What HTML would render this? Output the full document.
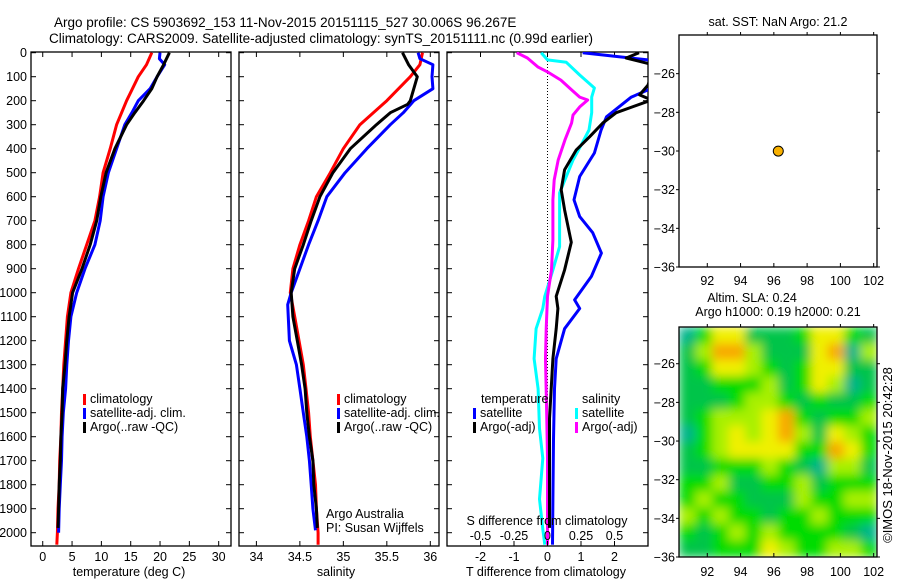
<!DOCTYPE html>
<html><head><meta charset="utf-8"><style>
html,body{margin:0;padding:0;background:#fff}
svg{display:block;font-family:"Liberation Sans",sans-serif}
text{fill:#000}
</style></head><body>
<svg id="fig" width="900" height="580" viewBox="0 0 900 580" xmlns="http://www.w3.org/2000/svg">
<defs>
<clipPath id="c1"><rect x="31" y="52" width="200" height="494"/></clipPath>
<clipPath id="c2"><rect x="239" y="52" width="200" height="494"/></clipPath>
<clipPath id="c3"><rect x="447" y="52" width="201" height="494"/></clipPath>
<clipPath id="cm"><rect x="679" y="327" width="198" height="230"/></clipPath>
<filter id="blur" x="0" y="0" width="100%" height="100%"><feGaussianBlur stdDeviation="5" edgeMode="duplicate"/></filter>
</defs>
<text x="54" y="27" font-size="13.5">Argo profile: CS 5903692_153 11-Nov-2015 20151115_527 30.006S 96.267E</text>
<text x="49" y="43" font-size="13.5">Climatology: CARS2009. Satellite-adjusted climatology: synTS_20151111.nc (0.99d earlier)</text>
<g id="p1"></g>
<g id="p2"></g>
<g id="p3"></g>
<g id="m1"></g>
<g id="m2"></g>
<text transform="translate(892,455) rotate(-90)" text-anchor="middle" font-size="13">©IMOS 18-Nov-2015 20:42:28</text>
</svg>
<script>
// ---- data ----
const tempClimDepth=[0,50,100,200,300,400,500,600,700,800,900,1000,1100,1200,1300,1400,1500,1600,1700,1800,1900,2000,2050];
const tempClim=[18.6,17.7,16.3,14.3,12.6,11.5,10.3,9.7,8.9,7.5,6.1,4.8,4.2,3.9,3.6,3.4,3.2,3.1,2.9,2.8,2.6,2.5,2.4];
const tempSatDepth=[0,25,50,100,150,200,250,300,400,500,600,700,800,900,1000,1100,1200,1300,1400,1500,1600,1700,1800,1900,2000];
const tempSat=[20.0,19.9,20.8,19.5,18.3,16.3,15.2,14.0,12.6,11.2,10.3,9.8,8.9,7.2,5.8,4.8,4.4,4.1,3.9,3.5,3.3,3.2,3.0,2.8,2.7];
const tempArgoDepth=[0,50,100,150,200,250,300,400,500,600,700,800,900,1000,1100,1200,1300,1400,1500,1600,1700,1800,1900,1980];
const tempArgo=[21.6,20.6,19.5,18.6,17.2,15.7,14.3,12.3,10.8,9.9,9.2,8.1,6.7,5.1,4.5,4.1,3.8,3.4,3.3,3.1,3.0,2.8,2.7,2.6];
const salClimDepth=[0,50,100,200,300,400,500,600,700,800,900,1000,1100,1200,1300,1400,1500,1600,1700,1800,1900,2000,2050];
const salClim=[35.91,35.88,35.77,35.50,35.19,35.00,34.85,34.69,34.60,34.50,34.42,34.39,34.44,34.49,34.54,34.57,34.60,34.62,34.65,34.68,34.69,34.71,34.71];
const salSatDepth=[0,25,50,100,150,200,250,300,400,500,600,700,800,900,1000,1050,1200,1300,1400,1500,1600,1700,1800,1900,1990];
const salSat=[35.86,35.88,36.03,36.02,36.03,35.81,35.69,35.54,35.27,35.02,34.81,34.71,34.60,34.50,34.40,34.36,34.38,34.46,34.50,34.54,34.58,34.61,34.63,34.65,34.68];
const salArgoDepth=[0,50,100,150,200,215,250,300,400,500,600,700,800,900,1000,1100,1200,1300,1400,1500,1600,1700,1800,1900,1980];
const salArgo=[35.68,35.75,35.85,35.81,35.77,35.74,35.54,35.38,35.08,34.88,34.73,34.63,34.54,34.44,34.40,34.42,34.47,34.52,34.56,34.58,34.61,34.65,34.66,34.69,34.70];
const dTSatDepth=[0,30,90,155,185,267,322,418,516,613,683,750,835,932,1030,1066,1150,1275,1400,1610,1860,2050];
const dTSat=[1.05,3.0,3.6,3.0,2.5,1.76,1.6,1.4,0.96,0.79,0.96,1.35,1.61,1.31,0.81,0.96,0.51,0.26,0.21,0.18,0.16,0.15];
const dTArgoDepth=[0,22,52,135,176,197,230,250,293,350,405,488,571,655,790,905,1015,1066,1150,1275,1525,1690,1940,1980];
const dTArgo=[2.73,2.35,3.2,3.0,2.75,3.1,2.45,2.05,1.65,1.26,0.86,0.51,0.41,0.51,0.71,0.51,0.26,0.31,0.26,0.16,0.06,0.06,0.06,0.06];
const dSSatDepth=[0,30,40,93,147,185,250,322,376,447,530,584,675,808,905,1015,1066,1150,1275,1400,1566,1690,1860,1985,2050];
const dSSat=[-0.047,0,0.14,0.24,0.35,0.33,0.33,0.31,0.26,0.19,0.13,0.09,0.09,0.09,0.04,-0.02,-0.035,-0.085,-0.10,-0.07,-0.06,-0.035,-0.06,-0.035,-0.02];
const dSArgoDepth=[0,22,60,80,114,155,185,197,226,260,293,364,447,530,613,780,905,1015,1150,1275,1525,1690,1940,2050];
const dSArgo=[-0.23,-0.15,-0.07,0,0.10,0.18,0.24,0.30,0.24,0.19,0.18,0.13,0.08,0.05,0.04,0.04,0.03,0,-0.01,-0.015,-0.005,0,0,0];
const depthTicks=[0,100,200,300,400,500,600,700,800,900,1000,1100,1200,1300,1400,1500,1600,1700,1800,1900,2000];
const tempTicks=[0,5,10,15,20,25,30];
const salTicks=[34,34.5,35,35.5,36];
const dTTicks=[-2,-1,0,1,2];
const dSTicks=[-0.5,-0.25,0,0.25,0.5];
const lonTicks=[92,94,96,98,100,102];
const latTicks=[-26,-28,-30,-32,-34,-36];
const argoLon=[96.267];
const argoLat=[-30.006];
const slaGrid=[
[0,2,4,4,1,1,1,2,4,4,2,1],
[1,3,5,5,3,1,1,1,4,5,0,3],
[1,2,4,4,3,2,1,2,4,4,1,1],
[1,1,2,2,2,3,1,2,4,3,0,1],
[1,1,1,2,3,3,2,1,2,1,1,2],
[1,2,3,3,3,4,5,2,1,2,2,3],
[0,2,3,4,3,4,5,3,1,4,3,2],
[1,2,3,4,4,4,4,2,2,5,4,2],
[1,1,2,2,2,3,2,1,0,3,3,1],
[2,2,3,1,1,2,2,3,1,2,2,2],
[2,3,2,2,1,1,1,3,2,2,3,3],
[3,2,3,2,2,1,2,2,3,2,2,2],
[2,1,2,3,2,3,2,2,2,2,1,0],
[1,1,2,2,2,4,3,2,2,3,3,2]];
const slaColors=['#00b48a','#00c44a','#00dc00','#a8f000','#f0f000','#f8a800'];

// ---- helpers ----
const NS='http://www.w3.org/2000/svg';
function mk(parent,tag,attrs,txt){const e=document.createElementNS(NS,tag);for(const k in attrs)e.setAttribute(k,attrs[k]);if(txt!==undefined)e.textContent=txt;parent.appendChild(e);return e;}
const yD=d=>52.7+d*0.24;
function lin(d0,d1,r0,r1){return v=>r0+(v-d0)*(r1-r0)/(d1-d0);}

function frame(g,x0,x1,y0,y1){
  const r=mk(g,'rect',{x:x0,y:y0,width:x1-x0,height:y1-y0,fill:'none',stroke:'#000','stroke-width':1.3});
  
  
}
function depthAxis(g,x0,x1,labels){
  depthTicks.forEach(d=>{
    const y=yD(d);
    mk(g,'line',{x1:x0,x2:x0+5,y1:y,y2:y,stroke:'#000'});
    mk(g,'line',{x1:x1,x2:x1-5,y1:y,y2:y,stroke:'#000'});
    if(labels){const t=mk(g,'text',{x:x0-4,y:y+4.5,'font-size':12.5,'text-anchor':'end'},String(d));
      
      }
  });
}
function xAxis(g,ticks,sx,y0,y1,labY){
  ticks.forEach(v=>{const x=sx(v);
    mk(g,'line',{x1:x,x2:x,y1:y1,y2:y1-5,stroke:'#000'});
    mk(g,'line',{x1:x,x2:x,y1:y0,y2:y0+5,stroke:'#000'});
    const t=mk(g,'text',{x:x,y:labY,'font-size':12.5,'text-anchor':'middle'},String(v));
    
    
  });
}
function series(g,clip,depths,vals,sx,color,name){
  const pts=depths.map((d,i)=>sx(vals[i]).toFixed(1)+','+yD(d).toFixed(1)).join(' ');
  const p=mk(g,'polyline',{points:pts,fill:'none',stroke:color,'stroke-width':3,'clip-path':'url(#'+clip+')','stroke-linejoin':'round'});
  
  
}
function legend(g,x,y,items){
  items.forEach((it,i)=>{
    mk(g,'rect',{x:x,y:y+i*14-9,width:3,height:11,fill:it[0]});
    const t=mk(g,'text',{x:x+7,y:y+i*14,'font-size':12.5},it[1]);
    
    
  });
}

// ---- panel 1 ----
{const g=document.getElementById('p1');const sx=lin(-2,32.1,31,231);
 frame(g,31,231,52,546);depthAxis(g,31,231,true);xAxis(g,tempTicks,sx,52,546,561);
 series(g,'c1',tempClimDepth,tempClim,sx,'#f00','temp-climatology-line');
 series(g,'c1',tempSatDepth,tempSat,sx,'#00f','temp-satellite-line');
 series(g,'c1',tempArgoDepth,tempArgo,sx,'#000','temp-argo-line');
 legend(g,83,403,[['#f00','climatology'],['#00f','satellite-adj. clim.'],['#000','Argo(..raw -QC)']]);
 const t=mk(g,'text',{x:129,y:576,'font-size':12.5,'text-anchor':'middle'},'temperature (deg C)');
 }
// ---- panel 2 ----
{const g=document.getElementById('p2');const sx=lin(33.8,36.1,239,439);
 frame(g,239,439,52,546);depthAxis(g,239,439,false);xAxis(g,salTicks,sx,52,546,561);
 series(g,'c2',salClimDepth,salClim,sx,'#f00','sal-climatology-line');
 series(g,'c2',salSatDepth,salSat,sx,'#00f','sal-satellite-line');
 series(g,'c2',salArgoDepth,salArgo,sx,'#000','sal-argo-line');
 legend(g,337,403,[['#f00','climatology'],['#00f','satellite-adj. clim.'],['#000','Argo(..raw -QC)']]);
 let t=mk(g,'text',{x:326,y:518,'font-size':12.5},'Argo Australia');
 t=mk(g,'text',{x:326,y:532,'font-size':12.5},'PI: Susan Wijffels');
 t=mk(g,'text',{x:336,y:576,'font-size':12.5,'text-anchor':'middle'},'salinity');}
// ---- panel 3 ----
{const g=document.getElementById('p3');const sx=lin(-3,3,447,648);const ss=v=>sx(v*4);
 frame(g,447,648,52,546);depthAxis(g,447,648,false);xAxis(g,dTTicks,sx,52,546,561);
 mk(g,'line',{x1:sx(0),x2:sx(0),y1:52,y2:546,stroke:'#000','stroke-dasharray':'1,2'});
 series(g,'c3',dSSatDepth,dSSat,ss,'#0ff','s-diff-satellite-line');
 series(g,'c3',dSArgoDepth,dSArgo,ss,'#f0f','s-diff-argo-line');
 series(g,'c3',dTSatDepth,dTSat,sx,'#00f','t-diff-satellite-line');
 series(g,'c3',dTArgoDepth,dTArgo,sx,'#000','t-diff-argo-line');
 let t=mk(g,'text',{x:481,y:403,'font-size':12.5},'temperature');
 t=mk(g,'text',{x:582,y:403,'font-size':12.5},'salinity');
 legend(g,473,417,[['#00f','satellite'],['#000','Argo(-adj)']]);
 legend(g,575,417,[['#0ff','satellite'],['#f0f','Argo(-adj)']]);
 t=mk(g,'text',{x:547,y:525,'font-size':12.5,'text-anchor':'middle'},'S difference from climatology');
 dSTicks.forEach(v=>{const x=ss(v);mk(g,'line',{x1:x,x2:x,y1:546,y2:541,stroke:'#000'});
   const l=mk(g,'text',{x:x,y:540,'font-size':12.5,'text-anchor':'middle'},String(v));
   });
 t=mk(g,'text',{x:546,y:576,'font-size':12.5,'text-anchor':'middle'},'T difference from climatology');}
// ---- maps ----
function mapAxes(g,x0,x1,y0,y1,sLon,sLat,labY){
  frame(g,x0,x1,y0,y1);
  lonTicks.forEach(v=>{const x=sLon(v);mk(g,'line',{x1:x,x2:x,y1:y1,y2:y1-4,stroke:'#000'});mk(g,'line',{x1:x,x2:x,y1:y0,y2:y0-3,stroke:'#000'});
    const t=mk(g,'text',{x:x,y:labY,'font-size':12.5,'text-anchor':'middle'},String(v));});
  latTicks.forEach(v=>{const y=sLat(v);mk(g,'line',{x1:x0,x2:x0-3,y1:y,y2:y,stroke:'#000'});mk(g,'line',{x1:x1,x2:x1+3,y1:y,y2:y,stroke:'#000'});
    const t=mk(g,'text',{x:x0-4,y:y+4.5,'font-size':12.5,'text-anchor':'end'},String(v).replace('-','\u2212'));});
}
{const g=document.getElementById('m1');const sLon=lin(90.3,102.2,679,877),sLat=lin(-24,-36,35,267);
 const t=mk(g,'text',{x:778,y:26,'font-size':12.5,'text-anchor':'middle'},'sat. SST: NaN Argo: 21.2');
 mapAxes(g,679,877,35,267,sLon,sLat,285);
 argoLon.forEach((lo,i)=>{const c=mk(g,'circle',{cx:sLon(lo),cy:sLat(argoLat[i]),r:5,fill:'#f8b000',stroke:'#000','stroke-width':1});
   });}
{const g=document.getElementById('m2');const sLon=lin(90.3,102.2,679,877),sLat=lin(-24.1,-36,327,557);
 let t=mk(g,'text',{x:752,y:302,'font-size':12.5,'text-anchor':'middle'},'Altim. SLA: 0.24');
 t=mk(g,'text',{x:778,y:316,'font-size':12.5,'text-anchor':'middle'},'Argo h1000: 0.19 h2000: 0.21');
 const hm=mk(g,'g',{'clip-path':'url(#cm)'});const inner=mk(hm,'g',{filter:'url(#blur)'});
 const rows=slaGrid.length,cols=slaGrid[0].length,cw=198/cols,ch=230/rows;
 slaGrid.forEach((row,r)=>row.forEach((v,c)=>{
   const rc=mk(inner,'rect',{x:679+c*cw,y:327+r*ch,width:cw+0.6,height:ch+0.6,fill:slaColors[v]});
   
   
 }));
 mapAxes(g,679,877,327,557,sLon,sLat,576);}
</script>
</body></html>
